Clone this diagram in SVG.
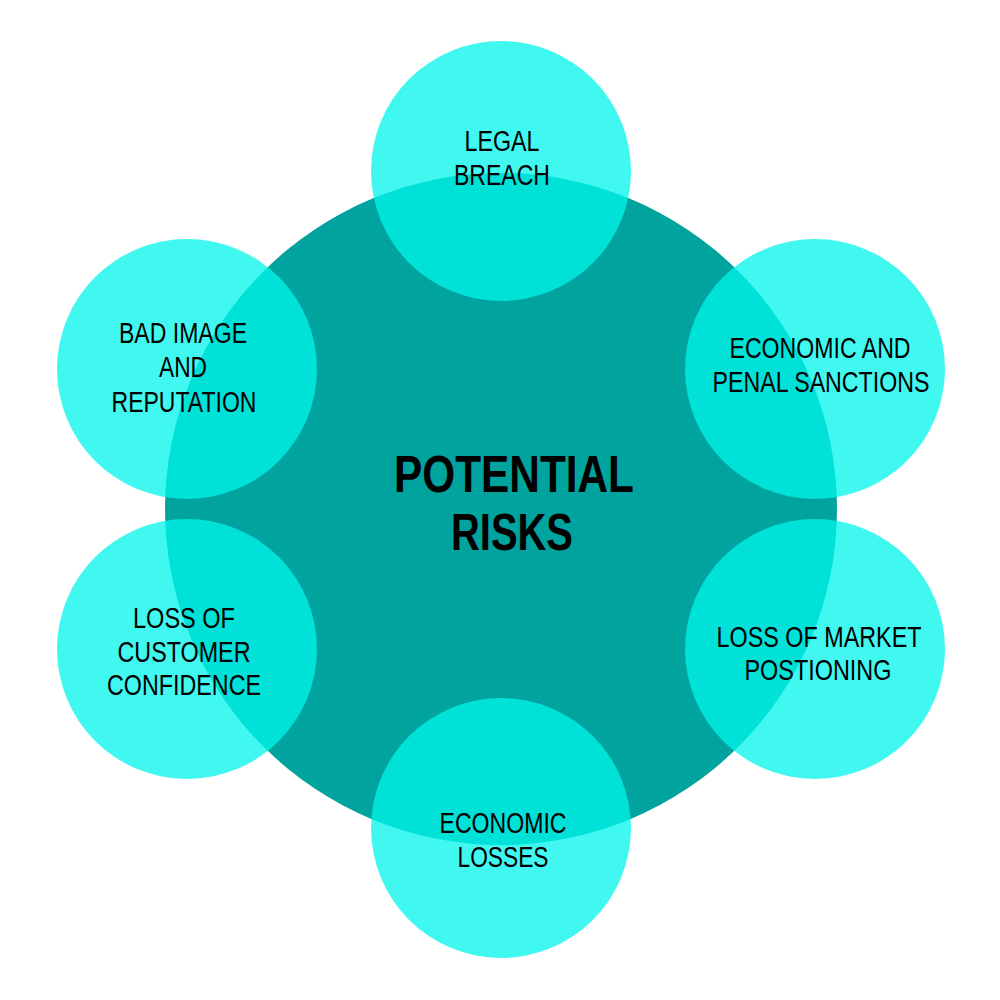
<svg xmlns="http://www.w3.org/2000/svg" width="1000" height="1000" viewBox="0 0 1000 1000">
<style>
.sat{fill:#00F6EB;fill-opacity:0.75}
.lbl{font-family:"Liberation Sans",Arial,sans-serif;font-size:29px;fill:#000;text-anchor:middle}
.ttl{font-family:"Liberation Sans",Arial,sans-serif;font-size:52px;font-weight:bold;fill:#000;text-anchor:middle}
</style>
<rect width="1000" height="1000" fill="#fff"/>
<g id="center">
<circle cx="501" cy="509" r="336" fill="#00A39E"/>
<text class="ttl" x="514" y="492" textLength="240" lengthAdjust="spacingAndGlyphs">POTENTIAL</text>
<text class="ttl" x="512" y="550" textLength="122" lengthAdjust="spacingAndGlyphs">RISKS</text>
</g>
<g id="connectors"></g>
<g id="legal">
<circle class="sat" cx="501" cy="171" r="130"/>
<text class="lbl" x="502" y="151" textLength="75" lengthAdjust="spacingAndGlyphs">LEGAL</text>
<text class="lbl" x="502" y="185" textLength="96" lengthAdjust="spacingAndGlyphs">BREACH</text>
</g>
<g id="sanctions">
<circle class="sat" cx="815" cy="369" r="130"/>
<text class="lbl" x="820" y="358" textLength="181" lengthAdjust="spacingAndGlyphs">ECONOMIC AND</text>
<text class="lbl" x="821" y="392" textLength="217" lengthAdjust="spacingAndGlyphs">PENAL SANCTIONS</text>
</g>
<g id="market">
<circle class="sat" cx="815" cy="649" r="130"/>
<text class="lbl" x="819" y="647" textLength="205" lengthAdjust="spacingAndGlyphs">LOSS OF MARKET</text>
<text class="lbl" x="818" y="680" textLength="147" lengthAdjust="spacingAndGlyphs">POSTIONING</text>
</g>
<g id="losses">
<circle class="sat" cx="501" cy="828" r="130"/>
<text class="lbl" x="503" y="833" textLength="127" lengthAdjust="spacingAndGlyphs">ECONOMIC</text>
<text class="lbl" x="503" y="867" textLength="91" lengthAdjust="spacingAndGlyphs">LOSSES</text>
</g>
<g id="confidence">
<circle class="sat" cx="187" cy="649" r="130"/>
<text class="lbl" x="184" y="628" textLength="102" lengthAdjust="spacingAndGlyphs">LOSS OF</text>
<text class="lbl" x="184" y="662" textLength="133" lengthAdjust="spacingAndGlyphs">CUSTOMER</text>
<text class="lbl" x="184" y="695" textLength="154" lengthAdjust="spacingAndGlyphs">CONFIDENCE</text>
</g>
<g id="image">
<circle class="sat" cx="187" cy="369" r="130"/>
<text class="lbl" x="183" y="343" textLength="128" lengthAdjust="spacingAndGlyphs">BAD IMAGE</text>
<text class="lbl" x="183" y="377" textLength="48" lengthAdjust="spacingAndGlyphs">AND</text>
<text class="lbl" x="184" y="412" textLength="145" lengthAdjust="spacingAndGlyphs">REPUTATION</text>
</g>
</svg>
